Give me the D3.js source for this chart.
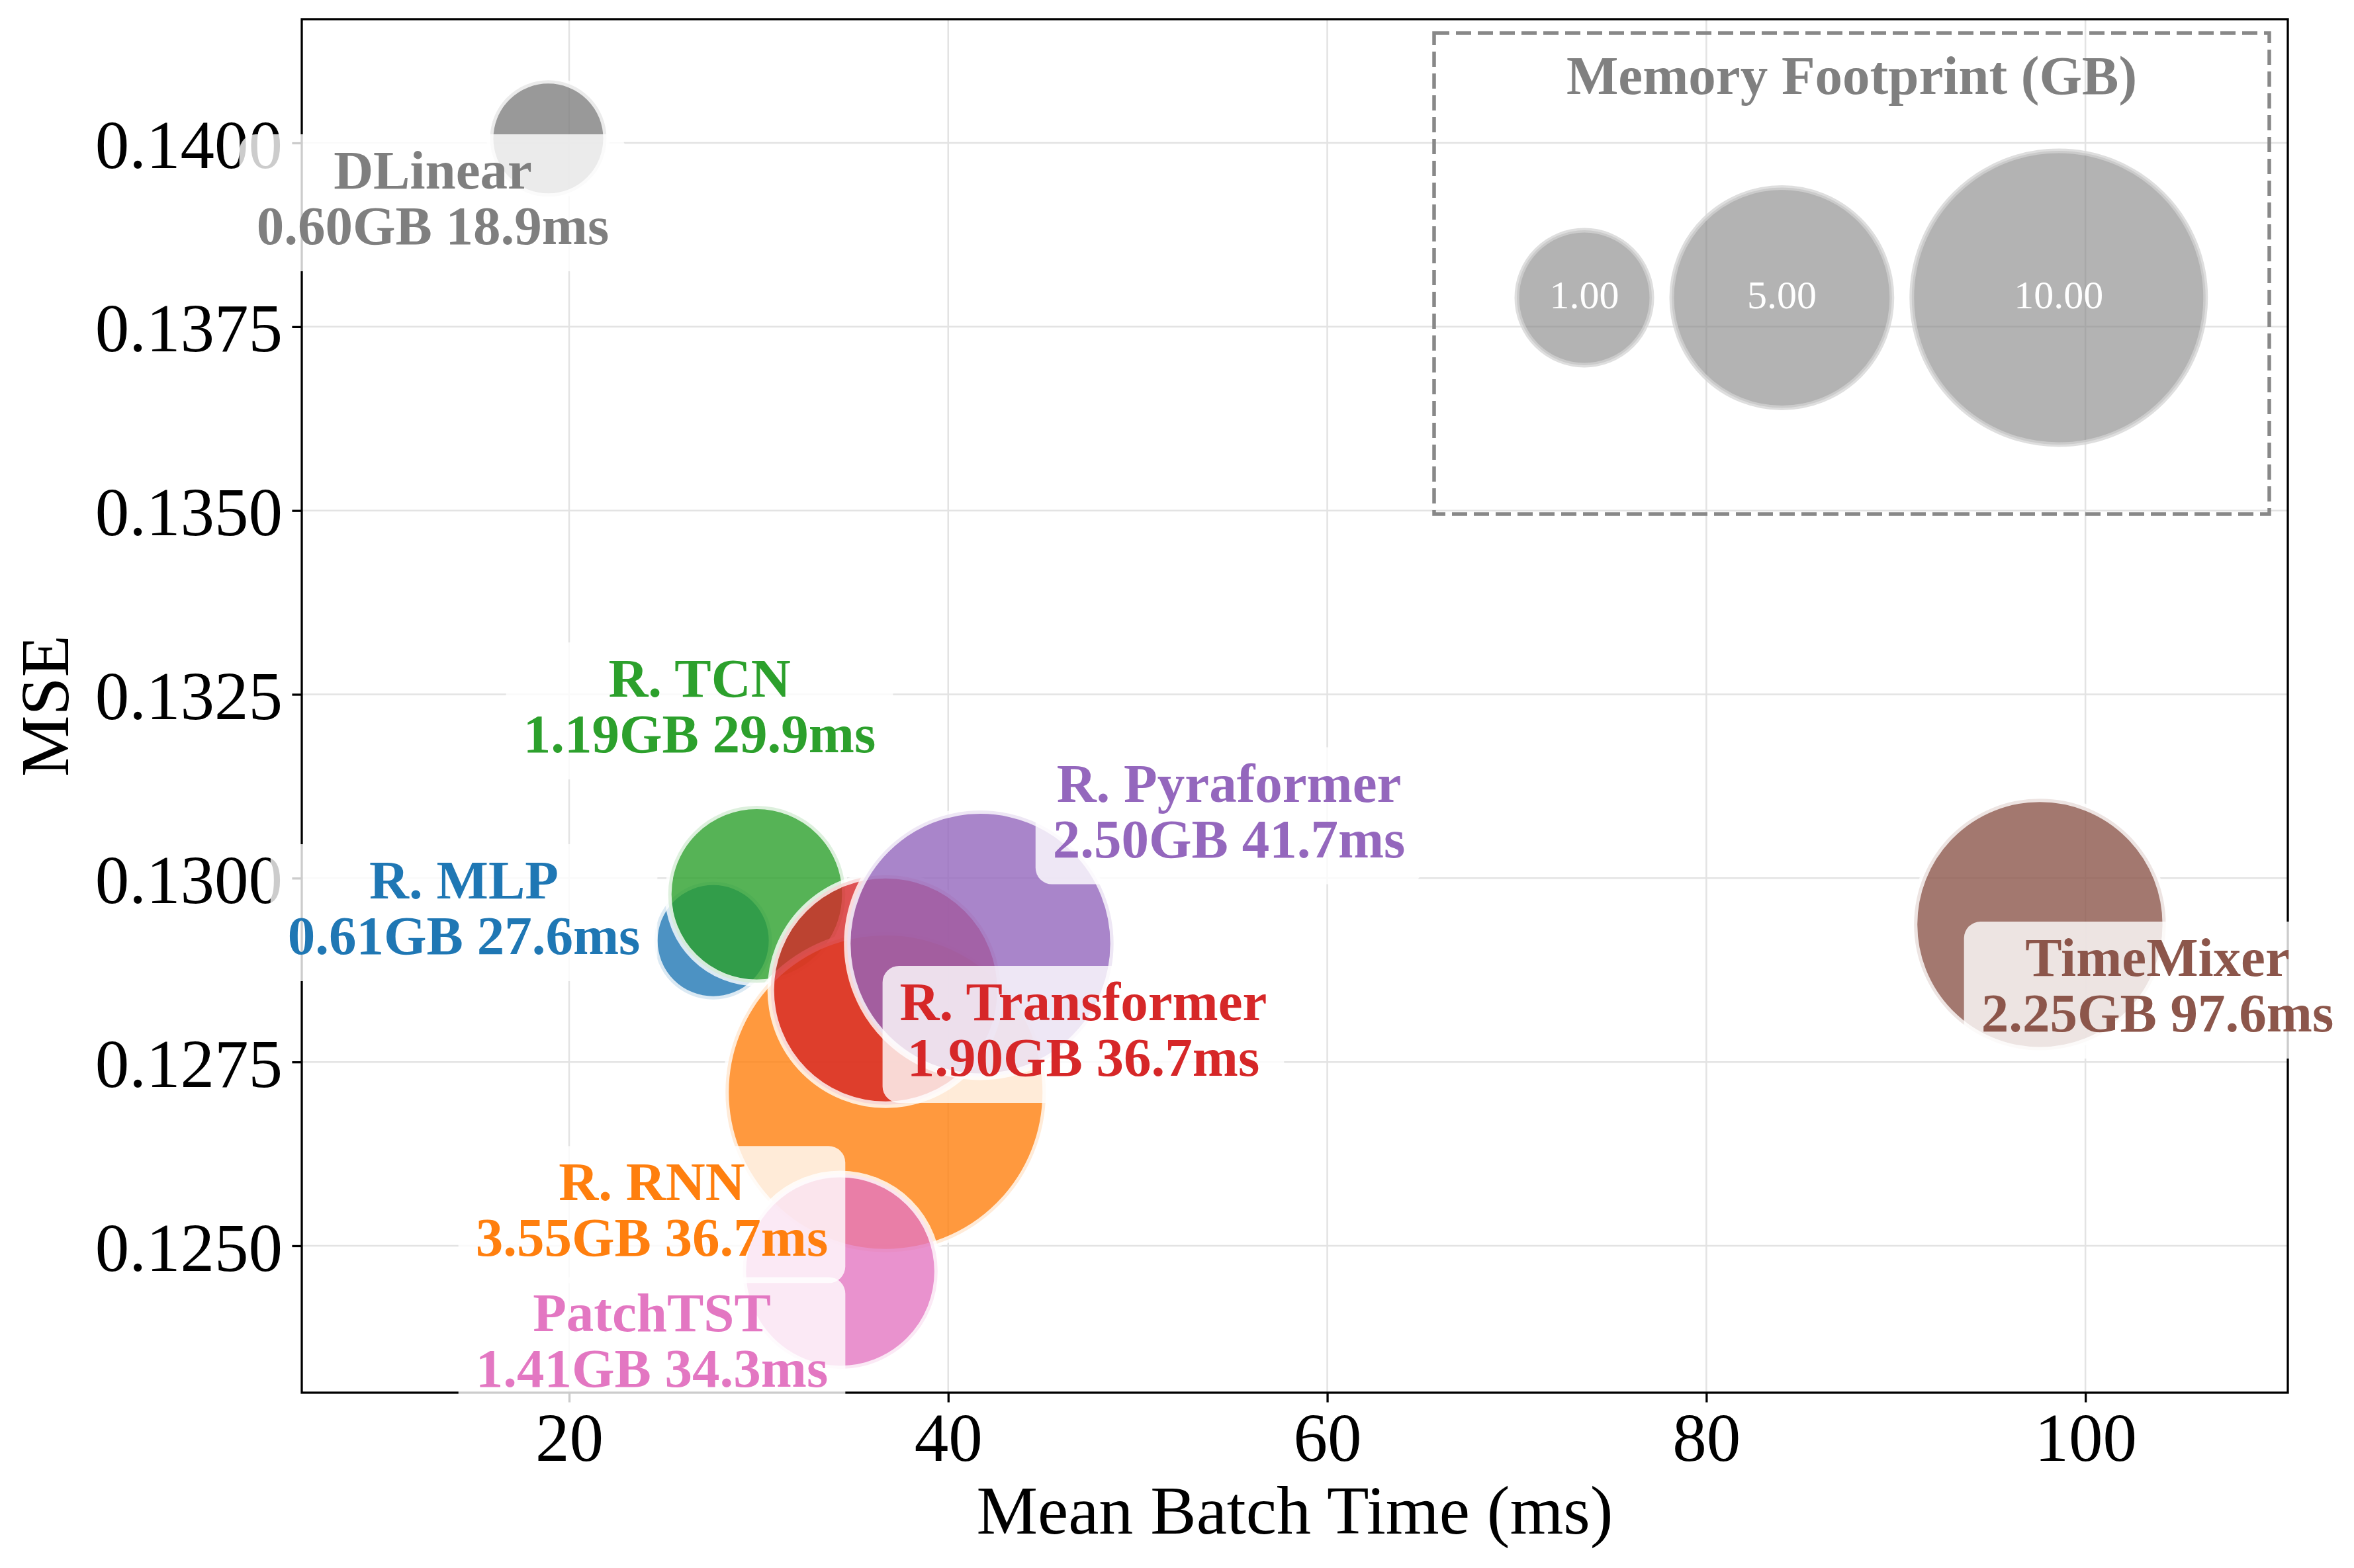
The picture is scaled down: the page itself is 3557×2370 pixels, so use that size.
<!DOCTYPE html>
<html><head><meta charset="utf-8">
<script src="https://cdn.jsdelivr.net/npm/d3@7/dist/d3.min.js"></script>
<style>body{margin:0;background:#fff}</style>
</head><body>
<svg id="chart" width="3557" height="2370" xmlns="http://www.w3.org/2000/svg"></svg>
<script>
// ---------------- data ----------------
const models      = ["DLinear", "R. MLP", "R. TCN", "R. RNN", "R. Transformer", "R. Pyraformer", "PatchTST", "TimeMixer"];
const batchTimeMs = [18.9, 27.6, 29.9, 36.7, 36.7, 41.7, 34.3, 97.6];
const mseValues   = [0.14006, 0.12915, 0.12978, 0.12709, 0.12848, 0.12911, 0.12465, 0.12937];
const memoryGB    = [0.60, 0.61, 1.19, 3.55, 1.90, 2.50, 1.41, 2.25];
const modelColors = ["#7f7f7f", "#1f77b4", "#2ca02c", "#ff7f0e", "#d62728", "#9467bd", "#e377c2", "#8c564b"];
const xTicks = [20, 40, 60, 80, 100];
const yTicks = [0.1250, 0.1275, 0.1300, 0.1325, 0.1350, 0.1375, 0.1400];
const legendSizes = [1, 5, 10];
const xLabel = "Mean Batch Time (ms)";
const yLabel = "MSE";
const legendTitle = "Memory Footprint (GB)";

// label placement (offset of text centre / first baseline from the point, px)
const labelOffsets = [
  [-174.5, 75.6], [-376.6, -63.8], [-86.5, -298.8], [-353.3, 163.6],
  [298.7, 45.7], [375.6, -214.6], [-284.5, 90.6], [177.6, 77.7]
];

// ---------------- layout ----------------
const FONT = "'Liberation Serif','Times New Roman',Times,serif";
const plot = {left: 456, right: 3457, top: 29, bottom: 2105};
const svg = d3.select("#chart");
svg.append("rect").attr("width", 3557).attr("height", 2370).attr("fill", "#fff");

const x = d3.scaleLinear().domain([5.894, 110.68]).range([plot.left, plot.right]);
const y = d3.scaleLinear().domain([0.123002, 0.141683]).range([plot.bottom, plot.top]);
const areaScale = d3.scaleLinear().domain([0.60, 3.55]).range([88 * 88, 242 * 242]);
const rad = m => Math.sqrt(areaScale(m));
const legendArea = d3.scaleLinear().domain([1, 10]).range([102 * 102, 222 * 222]);
const legendRad = m => Math.sqrt(legendArea(m));

// grid
const grid = svg.append("g").attr("stroke", "#e3e3e3").attr("stroke-width", 2.5);
grid.selectAll("line.gx").data(xTicks).join("line").attr("class", "gx")
  .attr("x1", d => x(d)).attr("x2", d => x(d)).attr("y1", plot.top).attr("y2", plot.bottom);
grid.selectAll("line.gy").data(yTicks).join("line").attr("class", "gy")
  .attr("y1", d => y(d)).attr("y2", d => y(d)).attr("x1", plot.left).attr("x2", plot.right);

// bubbles
const idx = d3.range(models.length);
svg.append("g").selectAll("circle").data(idx).join("circle")
  .attr("cx", i => x(batchTimeMs[i]))
  .attr("cy", i => y(mseValues[i]))
  .attr("r", i => rad(memoryGB[i]))
  .attr("fill", i => modelColors[i]).attr("fill-opacity", 0.8)
  .attr("stroke", "#fff").attr("stroke-opacity", 0.8).attr("stroke-width", 10);

// axes
const xAxis = d3.axisBottom(x).tickValues(xTicks).tickFormat(d3.format("d")).tickSize(14.6).tickPadding(15.5);
const gx = svg.append("g").attr("transform", `translate(0,${plot.bottom})`).call(xAxis);
const yAxis = d3.axisLeft(y).tickValues(yTicks).tickFormat(d3.format(".4f")).tickSize(14.6).tickPadding(14.4);
const gy = svg.append("g").attr("transform", `translate(${plot.left},0)`).call(yAxis);
[gx, gy].forEach(g => {
  g.select(".domain").remove();
  g.attr("font-size", 103).attr("font-family", FONT);
  g.selectAll(".tick line").attr("stroke", "#000").attr("stroke-width", 3.3);
  g.selectAll(".tick text").attr("fill", "#000");
});
gy.selectAll(".tick text").attr("dy", "0.36em");

// spines
svg.append("rect").attr("x", plot.left).attr("y", plot.top)
  .attr("width", plot.right - plot.left).attr("height", plot.bottom - plot.top)
  .attr("fill", "none").attr("stroke", "#000").attr("stroke-width", 3.3);

// axis labels
svg.append("text").attr("x", (plot.left + plot.right) / 2).attr("y", 2318)
  .attr("text-anchor", "middle").attr("font-family", FONT).attr("font-size", 104).text(xLabel);
svg.append("text").attr("transform", `translate(103,${(plot.top + plot.bottom) / 2}) rotate(-90)`)
  .attr("text-anchor", "middle").attr("font-family", FONT).attr("font-size", 104).text(yLabel);

// legend
const lg = svg.append("g");
const lbox = {x: 2167, y: 50, w: 1262, h: 727};
lg.append("rect").attr("x", lbox.x).attr("y", lbox.y).attr("width", lbox.w).attr("height", lbox.h)
  .attr("fill", "none").attr("stroke", "#888").attr("stroke-width", 5.5).attr("stroke-dasharray", "23,10");
lg.append("text").attr("x", lbox.x + lbox.w / 2).attr("y", 142).attr("text-anchor", "middle")
  .attr("font-family", FONT).attr("font-weight", "bold").attr("font-size", 83).attr("fill", "#808080")
  .text(legendTitle);
let cxAcc = lbox.x + 125 + legendRad(legendSizes[0]);
const legendPos = legendSizes.map((s, k) => {
  if (k > 0) cxAcc += legendRad(legendSizes[k - 1]) + 30 + legendRad(s);
  return cxAcc;
});
const lcy = 450;
lg.selectAll("circle").data(legendSizes).join("circle")
  .attr("cx", (d, k) => legendPos[k]).attr("cy", lcy).attr("r", d => legendRad(d))
  .attr("fill", "#808080").attr("fill-opacity", 0.6)
  .attr("stroke", "#d3d3d3").attr("stroke-opacity", 0.75).attr("stroke-width", 7);
lg.selectAll("text.ln").data(legendSizes).join("text").attr("class", "ln")
  .attr("x", (d, k) => legendPos[k]).attr("y", lcy + 16).attr("text-anchor", "middle")
  .attr("font-family", FONT).attr("font-size", 60).attr("fill", "#fff")
  .text(d => d.toFixed(2));

// labels
const lineGap = 84, padX = 26;
idx.forEach(i => {
  const px = x(batchTimeMs[i]), py = y(mseValues[i]);
  const cx = px + labelOffsets[i][0], b1 = py + labelOffsets[i][1];
  const g = svg.append("g");
  const box = g.append("rect");
  const lines = [models[i], `${memoryGB[i].toFixed(2)}GB ${batchTimeMs[i].toFixed(1)}ms`];
  let maxW = 0;
  lines.forEach((t, k) => {
    const te = g.append("text").attr("x", cx).attr("y", b1 + k * lineGap)
      .attr("text-anchor", "middle").attr("font-family", FONT).attr("font-weight", "bold")
      .attr("font-size", 83).attr("fill", modelColors[i]).text(t);
    maxW = Math.max(maxW, te.node().getComputedTextLength());
  });
  box.attr("x", cx - maxW / 2 - padX).attr("y", b1 - 82)
    .attr("width", maxW + 2 * padX).attr("height", lineGap + 123)
    .attr("rx", 25).attr("ry", 25).attr("fill", "#fff").attr("fill-opacity", 0.8);
});
</script>
</body></html>
